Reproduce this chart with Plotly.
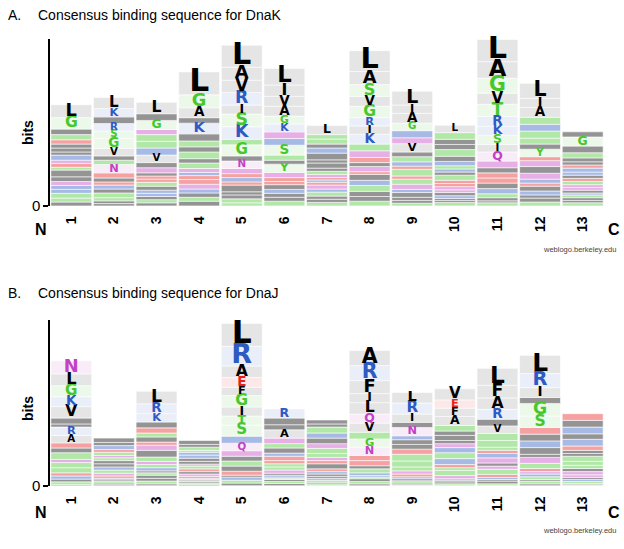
import plotly.graph_objects as go

# ---------------- data ----------------
positions = list(range(1, 14))
tick_labels = [str(p) for p in positions]

# letters listed top -> bottom for each position; heights in bits
dnak_letters = [
    "LGASEMFIKQDTVPNRHYCW",
    "LKARSGVITNDPEHMYCWF",
    "LIGQSTKVANMDEYPRHFCW",
    "LGAFKVTISPYQRDENHMCW",
    "LAVRISKTGFNQEHDPWMYC",
    "LIVAGKQRSTFYNDEPHMWC",
    "LSGAKVIFPTQDRENHYMWC",
    "LASVGRIKTNDFQEPHYMWC",
    "LIAGKQVFTRDSEYNHPMWC",
    "LGVASIRTKFYEDNQPHMWC",
    "LAGVTRKSIQNFEDPHYMWC",
    "LIAGKSTFYEQVNRDPHMWC",
    "LGVSFIERKADTQNPHYMWC",
]
dnak_bits = [
    [.33, .29, .14, .13, .11, .10, .10, .08, .13, .08, .10, .07, .17, .12, .10, .10, .10, .12, .10, .10],
    [.28, .21, .17, .19, .19, .25, .19, .11, .11, .21, .13, .10, .08, .10, .10, .12, .08, .07, .06],
    [.29, .17, .23, .13, .17, .17, .18, .19, .13, .13, .08, .08, .08, .10, .10, .08, .08, .08, .08, .08],
    [.58, .33, .25, .14, .27, .18, .15, .13, .17, .11, .14, .10, .08, .10, .12, .12, .10, .11, .10, .12],
    [.56, .33, .31, .32, .23, .32, .32, .14, .28, .13, .19, .13, .10, .11, .08, .17, .08, .10, .10, .08],
    [.42, .29, .25, .25, .20, .20, .17, .17, .25, .13, .10, .21, .13, .10, .08, .12, .10, .10, .10, .12],
    [.23, .11, .13, .10, .13, .17, .08, .13, .08, .08, .08, .06, .06, .07, .10, .08, .10, .08, .08, .09],
    [.53, .33, .30, .25, .29, .21, .21, .25, .17, .17, .13, .10, .13, .07, .15, .13, .15, .13, .12, .12],
    [.35, .21, .25, .19, .18, .15, .21, .12, .13, .11, .08, .17, .08, .13, .13, .08, .12, .08, .07, .07],
    [.19, .17, .13, .13, .17, .13, .11, .08, .08, .08, .13, .08, .08, .08, .07, .08, .07, .05, .05, .09],
    [.56, .42, .38, .28, .31, .25, .23, .23, .19, .23, .17, .13, .13, .13, .14, .13, .10, .08, .05, .08],
    [.38, .23, .25, .18, .17, .18, .15, .13, .19, .10, .15, .17, .15, .10, .08, .12, .10, .08, .10, .10],
    [.13, .23, .17, .13, .10, .08, .08, .10, .08, .08, .08, .08, .07, .07, .07, .05, .07, .07, .06, .08],
]

dnaj_letters = [
    "NLGKVFIRAEPSQTYDHMCW",
    "ALRESQGVFKTNDHPYIM",
    "LRKIEGADQVSNTHPYFMCW",
    "LFGSRKVIQTEANDHPYMCW",
    "LRAEFGITSKQNPYVDMHCW",
    "RLIANGVKEDSTQFHPYMCW",
    "LIGKVNSTQEADRFPHYMC",
    "ARFILQVTGNEDPSKHYMCW",
    "LRIFNKVAEGSTQDHPYMC",
    "VEFAGPILQRSKDTYNHWMC",
    "LFARIVSGTEKNPQYDHMWC",
    "LRIFGSDAKVPNTEQHYMCW",
    "EVRIKDFLSGTANQPHYMC",
]
dnaj_bits = [
    [.33, .30, .28, .25, .29, .15, .08, .21, .19, .13, .12, .17, .08, .13, .13, .08, .08, .07, .07, .03],
    [.11, .08, .10, .07, .08, .06, .07, .08, .08, .08, .08, .07, .06, .04, .04, .04, .04, .03],
    [.32, .25, .21, .15, .13, .10, .13, .08, .13, .17, .11, .08, .08, .08, .05, .06, .08, .07, .07, .05],
    [.10, .07, .08, .05, .07, .08, .08, .07, .05, .07, .07, .06, .06, .05, .03, .03, .03, .04, .03, .03],
    [.58, .50, .29, .25, .21, .29, .23, .23, .28, .18, .19, .14, .12, .13, .13, .10, .05, .08, .07, .07],
    [.23, .17, .13, .21, .14, .11, .13, .08, .11, .08, .08, .08, .08, .05, .05, .03, .03, .05, .05, .06],
    [.10, .08, .15, .13, .14, .12, .13, .10, .08, .08, .13, .07, .06, .06, .05, .05, .05, .04, .05],
    [.38, .38, .33, .23, .29, .23, .23, .17, .21, .21, .13, .13, .08, .10, .07, .04, .04, .07, .06, .05],
    [.27, .28, .21, .13, .21, .10, .12, .12, .13, .17, .15, .10, .08, .07, .05, .05, .06, .04, .03],
    [.28, .21, .21, .23, .14, .11, .13, .08, .10, .13, .15, .15, .08, .07, .13, .08, .04, .04, .05, .05],
    [.43, .32, .29, .25, .17, .19, .18, .17, .08, .08, .11, .13, .08, .08, .13, .08, .05, .04, .07, .05],
    [.46, .36, .25, .15, .32, .29, .17, .17, .17, .17, .08, .15, .13, .08, .06, .07, .07, .04, .07, .05],
    [.17, .17, .17, .14, .17, .11, .08, .07, .13, .10, .08, .08, .08, .07, .05, .05, .05, .03, .03],
]

# ---------------- style ----------------
GROUP_COLORS = {
    "GSTYC": (70, 200, 45),
    "NQ": (195, 65, 195),
    "KRH": (45, 90, 195),
    "DE": (230, 30, 30),
}
BLACK = (0, 0, 0)


def rgb(ch):
    for k, v in GROUP_COLORS.items():
        if ch in k:
            return v
    return BLACK


W, H = 624, 549
PX_PER_BIT = 40.0
FONT = "Liberation Sans, Arial, sans-serif"
LOGO_FONT = "DejaVu Sans, Liberation Sans, sans-serif"

# panel pixel geometry
XL, XR = 50, 604
panels = [
    dict(letters=dnak_letters, bits=dnak_bits, top=40, bottom=209, xa="x", ya="y"),
    dict(letters=dnaj_letters, bits=dnaj_bits, top=325, bottom=493, xa="x2", ya="y2"),
]

fig = go.Figure()

for p in panels:
    bx, by, bb, bc = [], [], [], []
    tx, ty, tt, ts, tc = [], [], [], [], []
    for pos, letters, bits in zip(positions, p["letters"], p["bits"]):
        bottom = 0.0
        for ch, h in reversed(list(zip(letters, bits))):
            r, g, b = rgb(ch)
            hpx = h * PX_PER_BIT
            tall = hpx >= 7.5
            alpha = 0.10 if tall else 0.42
            bx.append(pos)
            by.append(h)
            bb.append(bottom)
            bc.append(f"rgba({r},{g},{b},{alpha})")
            if tall:
                tx.append(pos)
                ty.append(bottom + h / 2)
                tt.append(ch)
                ts.append(min(hpx / 0.74, 40))
                tc.append(f"rgb({r},{g},{b})")
            bottom += h
    fig.add_trace(go.Bar(x=bx, y=by, base=bb, width=0.96,
                         marker=dict(color=bc, line=dict(width=0.6, color="white")),
                         xaxis=p["xa"], yaxis=p["ya"], hoverinfo="skip",
                         showlegend=False))
    fig.add_trace(go.Scatter(x=tx, y=ty, text=tt, mode="text",
                             textposition="middle center",
                             textfont=dict(family=LOGO_FONT, size=ts, color=tc, weight="bold"),
                             xaxis=p["xa"], yaxis=p["ya"], hoverinfo="skip",
                             showlegend=False, cliponaxis=False))

layout = dict(
    width=W, height=H, margin=dict(l=0, r=0, t=0, b=0),
    paper_bgcolor="white", plot_bgcolor="white", barmode="overlay",
    showlegend=False, font=dict(family=FONT, color="black"),
)

for i, p in enumerate(panels):
    sfx = "" if i == 0 else "2"
    ymax = (p["bottom"] - p["top"]) / PX_PER_BIT
    layout["xaxis" + sfx] = dict(
        domain=[XL / W, XR / W], range=[0.5, 13.5], anchor="y" + sfx,
        tickvals=positions, ticktext=tick_labels, tickangle=-90,
        tickfont=dict(size=14, family=FONT, weight="bold"),
        ticks="outside", ticklen=4, tickcolor="rgba(0,0,0,0)",
        showline=False, showgrid=False, zeroline=False, fixedrange=True,
    )
    layout["yaxis" + sfx] = dict(
        domain=[1 - p["bottom"] / H, 1 - p["top"] / H], range=[0, ymax],
        anchor="x" + sfx, tickvals=[0], ticktext=["0"],
        tickfont=dict(size=15, family=FONT),
        ticks="outside", ticklen=5, tickwidth=1.5, tickcolor="black",
        showline=True, linecolor="black", linewidth=1.5,
        showgrid=False, zeroline=False, fixedrange=True,
    )

fig.update_layout(**layout)


def ann(text, x, y, size, xanchor="center", bold=False, angle=0, color="black",
        family=FONT):
    fig.add_annotation(text=text, x=x / W, y=1 - y / H, xref="paper", yref="paper",
                       xanchor=xanchor, yanchor="middle", showarrow=False,
                       textangle=angle,
                       font=dict(size=size, color=color, family=family,
                                 weight="bold" if bold else "normal"))


for (lab, title, ty, by_, nc_y, wl_y) in [
    ("A.", "Consensus binding sequence for DnaK", 15, 135, 233, 253),
    ("B.", "Consensus binding sequence for DnaJ", 297, 415, 520, 538),
]:
    ann(lab, 6, ty, 14, xanchor="left")
    ann(title, 36, ty, 14, xanchor="left")
    ann("bits", 28, by_, 14, bold=True, angle=-90)
    ann("N", 41, nc_y, 16, bold=True)
    ann("C", 614, nc_y, 16, bold=True)
    ann("weblogo.berkeley.edu", 618, wl_y, 7.5, xanchor="right", color="#444")

fig.write_html(
    "out.html",
    config={"displayModeBar": False},
    post_script="document.body.style.margin='0';document.body.style.padding='0';"
                "document.body.style.overflow='hidden';",
)
